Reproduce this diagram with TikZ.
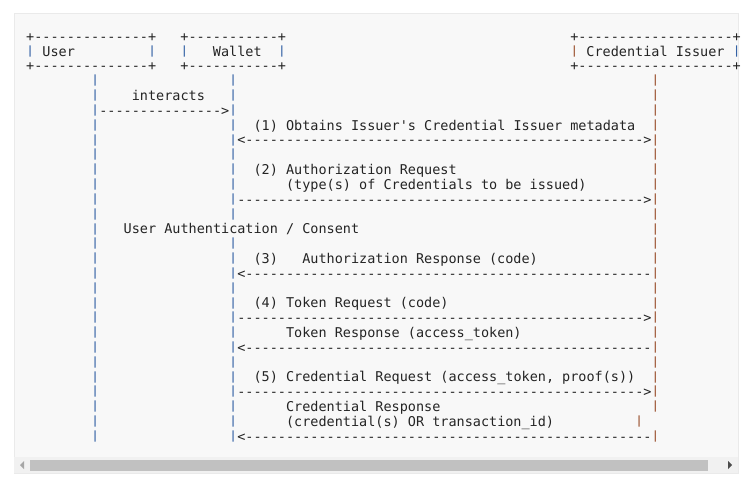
\documentclass[tikz,border=0pt]{standalone}
\usepackage{graphicx}
\usepackage{fontspec}
\setmonofont{DejaVu Sans Mono}

\definecolor{codebg}{RGB}{248,248,248}
\definecolor{codeborder}{RGB}{234,234,234}
\definecolor{ink}{RGB}{36,36,36}
\definecolor{pipeblue}{RGB}{52,98,165}
\definecolor{pipebrown}{RGB}{155,82,48}
\definecolor{track}{RGB}{241,241,241}
\definecolor{thumb}{RGB}{193,193,193}

\newcommand\dashrun[1]{\foreach\k in {1,...,#1}{-}}
\newcommand\vbar{\raisebox{1.3pt}{\scalebox{1}[0.84]{|}}}

\tikzset{
	ascii/.style={anchor=base west, inner sep=0pt, text=ink,
		font=\ttfamily\fontsize{10.12pt}{11pt}\selectfont},
	bluebar/.style={ascii, text=pipeblue},
	brownbar/.style={ascii, text=pipebrown}
}

\begin{document}
\begin{tikzpicture}[x=6.09pt, y=-11.11pt]
			\useasboundingbox (0pt,0pt) rectangle (557.25pt,-358.5pt);

			% Code block and scroll bar
			\fill[codebg, draw=codeborder] (10.5pt,-9.75pt) rectangle (553.5pt,-354.75pt);
			\fill[track] (10.5pt,-342.75pt) rectangle (553.5pt,-354.75pt);
			\fill[thumb] (22.5pt,-345pt) rectangle (531pt,-353.25pt);
			\fill[black!35] (15pt,-348.75pt) -- (18pt,-345.75pt) -- (18pt,-351.75pt) -- cycle;
			\fill[black!70] (549pt,-348.75pt) -- (546pt,-345.75pt) -- (546pt,-351.75pt) -- cycle;

			\begin{scope}[shift={(19.46pt,-30.9pt)}]
			% Boxes
			\node[ascii] (userTop) at (0,0) {+\dashrun{14}+};
			\node[ascii] (walletTop) at (19,0) {+\dashrun{11}+};
			\node[ascii] (issuerTop) at (67,0) {+\dashrun{19}+};

			\node[bluebar] at (0,1) {\vbar};
			\node[ascii] (user) at (2,1) {User};
			\node[bluebar] at (15,1) {\vbar};
			\node[bluebar] at (19,1) {\vbar};
			\node[ascii] (wallet) at (23,1) {Wallet};
			\node[bluebar] at (31,1) {\vbar};
			\node[brownbar] at (67,1) {\vbar};
			\node[ascii] (issuer) at (69,1) {Credential Issuer};
			\node[bluebar] at (87,1) {\vbar};

			\node[ascii] (userBottom) at (0,2) {+\dashrun{14}+};
			\node[ascii] (walletBottom) at (19,2) {+\dashrun{11}+};
			\node[ascii] (issuerBottom) at (67,2) {+\dashrun{19}+};

			% Lifelines
			\foreach \r in {3,...,27} \node[bluebar] at (8,\r) {\vbar};
			\foreach \r in {3,...,12} \node[bluebar] at (25,\r) {\vbar};
			\foreach \r in {14,...,27} \node[bluebar] at (25,\r) {\vbar};
			\foreach \r in {3,...,25} \node[brownbar] at (77,\r) {\vbar};
			\node[brownbar] at (77,27) {\vbar};
			\node[brownbar] at (75,26) {\vbar};

			% Messages
			\node[ascii] (interacts) at (13,4) {interacts};
			\node[ascii] (arrInteracts) at (9,5) {\dashrun{15}>};

			\node[ascii] (msgOne) at (28,6) {(1) Obtains Issuer's Credential Issuer metadata};
			\node[ascii] (arrOne) at (26,7) {<\dashrun{49}>};

			\node[ascii] (msgTwo) at (28,9) {(2) Authorization Request};
			\node[ascii] (msgTwoB) at (32,10) {(type(s) of Credentials to be issued)};
			\node[ascii] (arrTwo) at (26,11) {\dashrun{50}>};

			\node[ascii] (consent) at (12,13) {User Authentication / Consent};

			\node[ascii] (numThree) at (28,15) {(3)};
			\node[ascii] (msgThree) at (34,15) {Authorization Response (code)};
			\node[ascii] (arrThree) at (26,16) {<\dashrun{50}};

			\node[ascii] (msgFour) at (28,18) {(4) Token Request (code)};
			\node[ascii] (arrFour) at (26,19) {\dashrun{50}>};
			\node[ascii] (msgFourB) at (32,20) {Token Response (access\_token)};
			\node[ascii] (arrFourB) at (26,21) {<\dashrun{50}};

			\node[ascii] (msgFive) at (28,23) {(5) Credential Request (access\_token, proof(s))};
			\node[ascii] (arrFive) at (26,24) {\dashrun{50}>};
			\node[ascii] (msgFiveB) at (32,25) {Credential Response};
			\node[ascii] (msgFiveC) at (32,26) {(credential(s) OR transaction\_id)};
			\node[ascii] (arrFiveB) at (26,27) {<\dashrun{50}};
			\end{scope}
		\end{tikzpicture}
\end{document}
